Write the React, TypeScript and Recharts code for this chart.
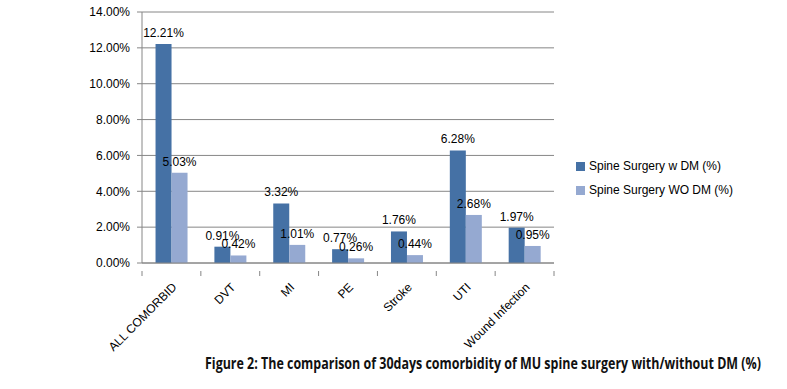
import React from 'react';
import { BarChart, Bar, XAxis, YAxis, CartesianGrid, LabelList } from 'recharts';

const categories = ['ALL COMORBID', 'DVT', 'MI', 'PE', 'Stroke', 'UTI', 'Wound Infection'];
const withDM = [12.21, 0.91, 3.32, 0.77, 1.76, 6.28, 1.97];
const withoutDM = [5.03, 0.42, 1.01, 0.26, 0.44, 2.68, 0.95];
const yTicks = [0, 2, 4, 6, 8, 10, 12, 14];

const seriesNames = ['Spine Surgery w DM (%)', 'Spine Surgery WO DM (%)'];
const colors = ['#4571A5', '#95A9D1'];

const data = categories.map((name, i) => ({ name, w: withDM[i], wo: withoutDM[i] }));

const W = 787;
const H = 389;
const PLOT_LEFT = 142;
const PLOT_RIGHT = 554;
const BAND = (PLOT_RIGHT - PLOT_LEFT) / categories.length;
const FONT = '"Liberation Sans", Arial, sans-serif';

const CategoryTick = ({ x, y, payload, index }: any) => {
    const last = index === categories.length - 1;
    return (
        <g>
            <line x1={x - BAND / 2} x2={x - BAND / 2} y1={y} y2={y + 5} stroke="#868686" />
            {last && <line x1={x + BAND / 2} x2={x + BAND / 2} y1={y} y2={y + 5} stroke="#868686" />}
            <g transform={`translate(${x + 3},${y + 14})`}>
                <text textAnchor="end" transform="rotate(-45)" fontSize={12} fill="#000" fontFamily={FONT} dy="0.35em">
                    {payload.value}
                </text>
            </g>
        </g>
    );
};

const LegendBox = () => (
    <div style={{ position: 'absolute', left: 576, top: 154, fontFamily: FONT, fontSize: 12, color: '#000' }}>
        {seriesNames.map((s, i) => (
            <div key={s} style={{ display: 'flex', alignItems: 'center', height: 24, whiteSpace: 'nowrap' }}>
                <span style={{ width: 9, height: 9, background: colors[i], marginRight: 4, display: 'inline-block' }} />
                {s}
            </div>
        ))}
    </div>
);

const fmt = (v: number) => `${v.toFixed(2)}%`;

export default function App() {
    return (
        <div style={{ position: 'absolute', left: 0, top: 0, width: W, height: H, background: '#fff' }}>
            <BarChart
                width={W}
                height={H}
                data={data}
                margin={{ top: 12, right: W - PLOT_RIGHT, left: PLOT_LEFT - 60, bottom: 46 }}
                barCategoryGap="23%"
                barGap={0}
            >
                <CartesianGrid vertical={false} stroke="#868686" />
                <XAxis
                    dataKey="name"
                    height={80}
                    interval={0}
                    tickLine={false}
                    axisLine={{ stroke: '#868686' }}
                    tick={<CategoryTick />}
                />
                <YAxis
                    width={60}
                    domain={[0, 14]}
                    ticks={yTicks}
                    tickFormatter={fmt}
                    tickSize={5}
                    tickMargin={7}
                    axisLine={{ stroke: '#868686' }}
                    tickLine={{ stroke: '#868686' }}
                    tick={{ fontSize: 12, fill: '#000', fontFamily: FONT }}
                />
                <Bar dataKey="w" name={seriesNames[0]} fill={colors[0]} isAnimationActive={false}>
                    <LabelList dataKey="w" position="top" offset={7} formatter={fmt} style={{ fontSize: 12, fill: '#000', fontFamily: FONT }} />
                </Bar>
                <Bar dataKey="wo" name={seriesNames[1]} fill={colors[1]} isAnimationActive={false}>
                    <LabelList dataKey="wo" position="top" offset={7} formatter={fmt} style={{ fontSize: 12, fill: '#000', fontFamily: FONT }} />
                </Bar>
            </BarChart>
            <LegendBox />
            <svg width={W} height={40} style={{ position: 'absolute', left: 0, top: 350 }}>
                <text x={205} y={19} fontFamily='"Open Sans", "Noto Sans", sans-serif' fontWeight="bold" fontSize={16} fill="#111" textLength={556} lengthAdjust="spacingAndGlyphs">
                    Figure 2: The comparison of 30days comorbidity of MU spine surgery with/without DM (%)
                </text>
            </svg>
        </div>
    );
}
